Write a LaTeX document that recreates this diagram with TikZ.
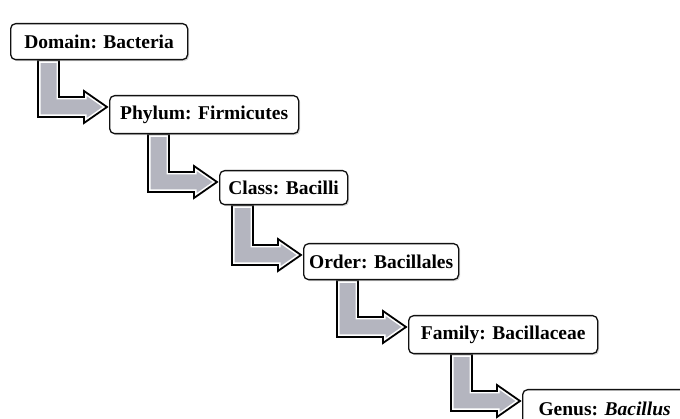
\documentclass[tikz,border=0pt]{standalone}
\usepackage{fontspec}
\setmainfont{Liberation Serif}
\usepackage{tikz}
\usetikzlibrary{calc,shadows,backgrounds}
\usepackage{xcolor}
\definecolor{arrowfill}{HTML}{B4B5BF}
\definecolor{boxline}{HTML}{111111}
\tikzset{
  rank/.style={draw=boxline,fill=white,line width=1.3pt,rounded corners=5pt,
    anchor=north west,inner sep=0pt,align=center,
    font=\fontsize{19.5}{22}\selectfont\bfseries,
    drop shadow={shadow xshift=1.5pt,shadow yshift=-1.5pt,fill=black!30}},
  steparrow/.style={draw=black,line width=1.8pt,
    preaction={fill=arrowfill,draw=white,line width=5pt}}
}
% L-shaped block arrow from the bottom of #1 to the left side of #2
\newcommand{\rankarrow}[2]{%
  \path[steparrow] let \p1=(#1.south), \p2=(#2.north west) in
    (\x2-71pt,\y1) -- (\x2-50pt,\y1) -- (\x2-50pt,\y2-2pt) -- (\x2-25pt,\y2-2pt)
    -- (\x2-25pt,\y2+4pt) -- (\x2-2pt,\y2-12pt) -- (\x2-25pt,\y2-28pt)
    -- (\x2-25pt,\y2-22pt) -- (\x2-71pt,\y2-22pt) -- cycle;
}
\begin{document}
\begin{tikzpicture}[x=1pt,y=-1pt]
  \useasboundingbox (0,0) rectangle (680,419);
  \clip (0,0) rectangle (680,419);
  \begin{scope}[on background layer]
    \fill[white] (0,0) rectangle (680,419);
  \end{scope}
  \node[rank,minimum width=177pt,minimum height=36pt] (dom) at (10,23) {Domain: Bacteria};
  \node[rank,minimum width=189pt,minimum height=38pt] (phy) at (109,95) {Phylum: Firmicutes};
  \node[rank,minimum width=128pt,minimum height=34pt] (cls) at (219,170) {Class: Bacilli};
  \node[rank,minimum width=155pt,minimum height=36pt] (ord) at (303,243) {Order: Bacillales};
  \node[rank,minimum width=189pt,minimum height=38pt] (fam) at (408,315) {Family: Bacillaceae};
  \node[rank,minimum width=164pt,minimum height=38pt] (gen) at (522,389) {Genus: \textit{Bacillus}};
  \begin{scope}[on background layer]
    \rankarrow{dom}{phy}
    \rankarrow{phy}{cls}
    \rankarrow{cls}{ord}
    \rankarrow{ord}{fam}
    \rankarrow{fam}{gen}
  \end{scope}
\end{tikzpicture}
\end{document}
